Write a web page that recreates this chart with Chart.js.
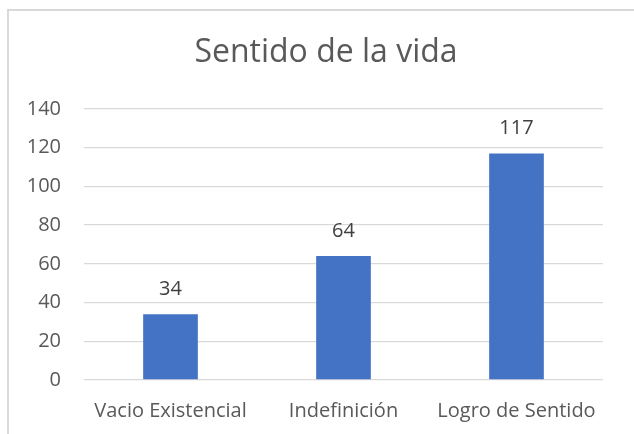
<!DOCTYPE html>
<html>
<head>
<meta charset="utf-8">
<script src="https://cdn.jsdelivr.net/npm/chart.js@4"></script>
<style>
  html, body { margin: 0; padding: 0; background: #fff; overflow: hidden; }
  #frame {
    position: absolute; left: 7px; top: 9px; width: 700px; height: 500px;
    border-left: 2px solid #d9d9d9; border-top: 2px solid #d9d9d9;
  }
  #wrap { position: absolute; left: 0; top: 0; width: 634px; height: 434px; }
</style>
</head>
<body>
<div id="frame"></div>
<div id="wrap"><canvas id="BarChart" width="634" height="434"></canvas></div>
<script>
// chart data
const categories = ['Vacio Existencial', 'Indefinición', 'Logro de Sentido'];
const counts = [34, 64, 117];
const yTicks = [0, 20, 40, 60, 80, 100, 120, 140];
const chartTitle = 'Sentido de la vida';

const textColor = '#595959';
const fontFamily = '"Open Sans", "Noto Sans", sans-serif';

// title centred on the whole frame, and the number above each bar
const extraText = {
    id: 'extraText',
    afterDraw(chart) {
        const ctx = chart.ctx;
        ctx.save();
        ctx.fillStyle = textColor;
        ctx.font = '32px ' + fontFamily;
        ctx.textAlign = 'center';
        ctx.textBaseline = 'middle';
        ctx.fillText(chartTitle, 326, 53);

        ctx.fillStyle = '#404040';
        ctx.font = '20px ' + fontFamily;
        const meta = chart.getDatasetMeta(0);
        meta.data.forEach((bar, i) => {
            ctx.fillText(chart.data.datasets[0].data[i], bar.x, bar.y - 25);
        });
        ctx.restore();
    }
};

const ctx = document.getElementById('BarChart').getContext('2d');
const BarChart = new Chart(ctx, {
    type: 'bar',
    data: {
        labels: categories,
        datasets: [{
            data: counts,
            backgroundColor: '#4472C4',
            categoryPercentage: 1,
            barPercentage: 0.316
        }]
    },
    options: {
        responsive: false,
        animation: false,
        layout: { padding: { left: 0, right: 31, top: 109, bottom: 0 } },
        plugins: {
            legend: { display: false },
            tooltip: { enabled: false },
            title: { display: false }
        },
        scales: {
            x: {
                grid: { display: false, drawTicks: false },
                border: { display: false },
                ticks: { color: textColor, font: { family: fontFamily, size: 20 }, padding: 19 },
                afterFit: scale => { scale.height = 54; }
            },
            y: {
                min: 0,
                max: 140,
                afterBuildTicks: scale => { scale.ticks = yTicks.map(v => ({ value: v })); },
                grid: { color: '#d9d9d9', lineWidth: 1.3, drawTicks: false },
                border: { display: false },
                ticks: { color: textColor, font: { family: fontFamily, size: 20 }, padding: 23 },
                afterFit: scale => { scale.width = 84; }
            }
        }
    },
    plugins: [extraText]
});
</script>
</body>
</html>
